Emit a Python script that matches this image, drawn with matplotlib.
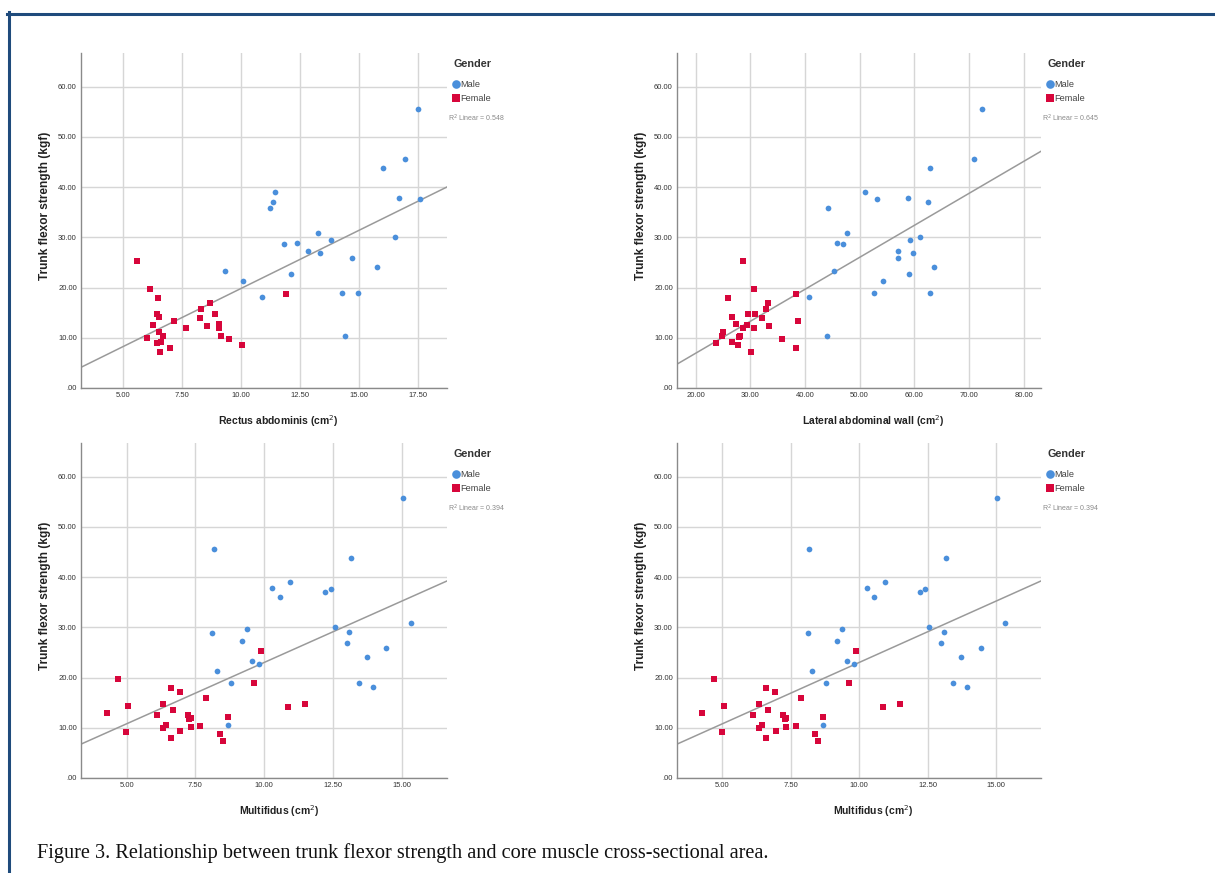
import numpy as np
import matplotlib.pyplot as plt
from matplotlib.lines import Line2D
from matplotlib.ticker import FuncFormatter

plt.rcParams['font.family'] = ['Liberation Sans', 'DejaVu Sans']

# Panel 1: rectus abdominis
ra_female_x = [5.57, 6.15, 6.47, 6.42, 6.51, 6.27, 5.99, 6.53, 6.70, 6.44, 6.60, 6.54, 6.97,
               7.15, 7.65, 8.24, 8.30, 8.57, 8.69, 8.89, 9.05, 9.06, 9.15, 9.47, 10.05, 11.92]
ra_female_y = [25.2, 19.7, 17.9, 14.65, 14.2, 12.5, 10.0, 11.2, 10.3, 8.95, 9.15, 7.1, 7.9,
               13.4, 11.9, 14.0, 15.7, 12.3, 17.0, 14.65, 12.8, 11.9, 10.4, 9.8, 8.5, 18.8]
ra_male_x = [9.32, 10.08, 10.87, 11.23, 11.37, 11.44, 11.81, 12.12, 12.37, 12.83, 13.29, 13.35,
             13.82, 14.31, 14.43, 14.70, 14.96, 15.76, 16.04, 16.56, 16.73, 16.97, 17.53, 17.60]
ra_male_y = [23.2, 21.35, 18.2, 35.9, 37.1, 39.0, 28.65, 22.6, 28.9, 27.2, 30.8, 26.9,
             29.5, 18.9, 10.4, 25.8, 18.9, 24.0, 43.9, 30.0, 37.8, 45.6, 55.6, 37.6]

# Panel 2: lateral abdominal wall
law_female_x = [23.7, 24.8, 25.1, 25.9, 26.7, 26.7, 27.4, 27.7, 27.9, 28.1, 28.6, 28.7, 29.4,
                29.5, 30.2, 30.6, 30.6, 30.8, 32.1, 32.9, 33.3, 33.5, 35.9, 38.4, 38.4, 38.7]
law_female_y = [8.95, 10.3, 11.1, 17.9, 14.2, 9.2, 12.7, 8.5, 10.1, 10.4, 25.2, 12.0, 12.6,
                14.65, 7.1, 19.7, 11.9, 14.65, 14.0, 15.7, 17.0, 12.3, 9.8, 18.8, 7.9, 13.4]
law_male_x = [40.8, 44.2, 44.1, 45.3, 45.8, 47.0, 47.7, 51.0, 52.6, 53.2, 54.3, 57.1,
              57.1, 58.95, 59.0, 59.2, 59.7, 61.1, 62.6, 62.8, 62.9, 63.65, 70.9, 72.4]
law_male_y = [18.1, 35.9, 10.4, 23.2, 28.9, 28.65, 30.8, 39.0, 18.9, 37.6, 21.35, 27.2,
              25.8, 37.8, 22.6, 29.5, 26.9, 30.0, 37.1, 18.9, 43.9, 24.0, 45.6, 55.6]

# Panels 3 and 4: multifidus (same data shown twice)
mf_female_x = [4.27, 4.69, 4.98, 5.05, 6.11, 6.34, 6.34, 6.44, 6.60, 6.61, 6.67, 6.94, 6.95,
               7.23, 7.28, 7.34, 7.34, 7.68, 7.88, 8.40, 8.50, 8.69, 9.62, 9.87, 10.88, 11.49]
mf_female_y = [12.9, 19.8, 9.1, 14.3, 12.6, 14.7, 9.95, 10.5, 18.0, 8.0, 13.5, 17.1, 9.3,
               12.5, 11.7, 12.0, 10.1, 10.4, 15.9, 8.7, 7.3, 12.1, 19.0, 25.3, 14.1, 14.8]
mf_male_x = [8.12, 8.18, 8.29, 8.69, 8.79, 9.19, 9.36, 9.56, 9.82, 10.27, 10.56, 10.93,
             12.23, 12.42, 12.57, 13.01, 13.09, 13.17, 13.45, 13.74, 13.95, 14.44, 15.04, 15.33]
mf_male_y = [28.8, 45.6, 21.4, 10.5, 19.0, 27.25, 29.6, 23.3, 22.7, 37.9, 36.0, 39.1,
             37.1, 37.6, 30.0, 26.9, 29.0, 43.9, 19.0, 24.1, 18.2, 25.9, 55.7, 30.9]

x_labels = ["Rectus abdominis (cm$^2$)", "Lateral abdominal wall (cm$^2$)",
            "Multifidus (cm$^2$)", "Multifidus (cm$^2$)"]
r2_values = [0.548, 0.645, 0.394, 0.394]
x_ticks = [[5, 7.5, 10, 12.5, 15, 17.5], [20, 30, 40, 50, 60, 70, 80],
           [5, 7.5, 10, 12.5, 15], [5, 7.5, 10, 12.5, 15]]
x_limits = [(3.2, 18.75), (16.6, 83.2), (3.34, 16.65), (3.34, 16.65)]
y_ticks = [0, 10, 20, 30, 40, 50, 60]

panels = [
    (ra_male_x, ra_male_y, ra_female_x, ra_female_y),
    (law_male_x, law_male_y, law_female_x, law_female_y),
    (mf_male_x, mf_male_y, mf_female_x, mf_female_y),
    (mf_male_x, mf_male_y, mf_female_x, mf_female_y),
]

MALE = "#4a8fdb"
FEMALE = "#d7063b"
W, H = 1215, 873


def spss_fmt(v, pos):
    s = f"{v:.2f}"
    if s.startswith("0."):
        s = s[1:]
    return s


fig = plt.figure(figsize=(W / 100, H / 100), dpi=100)

# axes boxes in pixels: left, top, right, bottom
boxes = [(81, 53, 447, 388), (677, 53, 1041, 388),
         (81, 443, 447, 778), (677, 443, 1041, 778)]

for i, (mx, my, fx, fy) in enumerate(panels):
    l, t, r, b = boxes[i]
    ax = fig.add_axes([l / W, 1 - b / H, (r - l) / W, (b - t) / H])

    ax.scatter(mx, my, s=17, marker="o", color=MALE, linewidths=0, zorder=3)
    ax.scatter(fx, fy, s=19, marker="s", color=FEMALE, linewidths=0, zorder=3)

    # linear fit on all points
    allx = np.array(mx + fx)
    ally = np.array(my + fy)
    slope, icpt = np.polyfit(allx, ally, 1)
    xs = np.array(x_limits[i])
    ax.plot(xs, slope * xs + icpt, color="#9a9a9a", lw=1.1, zorder=2)

    ax.set_xlim(*x_limits[i])
    ax.set_ylim(0, 66.7)
    ax.set_xticks(x_ticks[i])
    ax.set_yticks(y_ticks)
    ax.xaxis.set_major_formatter(FuncFormatter(spss_fmt))
    ax.yaxis.set_major_formatter(FuncFormatter(spss_fmt))
    ax.tick_params(length=0, labelsize=5.5, labelcolor="#333333", pad=3)
    ax.grid(True, color="#d6d6d6", lw=1)
    ax.set_axisbelow(True)
    for side in ("top", "right"):
        ax.spines[side].set_visible(False)
    for side in ("left", "bottom"):
        ax.spines[side].set_color("#8a8a8a")
        ax.spines[side].set_linewidth(1)

    ax.set_ylabel("Trunk flexor strength (kgf)", fontsize=8.6, fontweight="bold",
                  color="#222222", labelpad=5)
    ax.yaxis.label.set_y(0.543)
    ax.set_xlabel(x_labels[i], fontsize=7.5, fontweight="bold", color="#222222",
                  labelpad=10)
    ax.xaxis.label.set_x(0.54)

    # legend: title as plain text, entries below
    ax.text(1.017, 0.967, "Gender", transform=ax.transAxes, fontsize=7.8,
            fontweight="bold", color="#333333", ha="left", va="center")
    handles = [
        Line2D([], [], ls="none", marker="o", ms=6.2, color=MALE, mew=0),
        Line2D([], [], ls="none", marker="s", ms=6, color=FEMALE, mew=0),
    ]
    leg = ax.legend(handles, ["Male", "Female"], loc="upper left",
                    bbox_to_anchor=(1.011, 0.924), frameon=False, fontsize=6.6,
                    handlelength=0.7, handletextpad=0.15, borderaxespad=0,
                    borderpad=0.2, labelspacing=0.55)
    for txt in leg.get_texts():
        txt.set_color("#444444")

    ax.text(1.003, 0.806, f"R$^2$ Linear = {r2_values[i]}", transform=ax.transAxes,
            fontsize=5, color="#8a8a8a", ha="left", va="center")

# blue frame lines (top and left)
fig.add_artist(Line2D([8.5 / W, 8.5 / W], [0, 1 - 12 / H], color="#1f4b7c", lw=2.2))
fig.add_artist(Line2D([7 / W, 1], [1 - 13.5 / H, 1 - 13.5 / H], color="#1f4b7c", lw=2.2))

fig.text(37 / W, 1 - 853 / H,
         "Figure 3. Relationship between trunk flexor strength and core muscle cross-sectional area.",
         family=["Liberation Serif", "DejaVu Serif"], fontsize=14.6, color="#111111",
         ha="left", va="center")

fig.savefig("out.png", dpi=100)
